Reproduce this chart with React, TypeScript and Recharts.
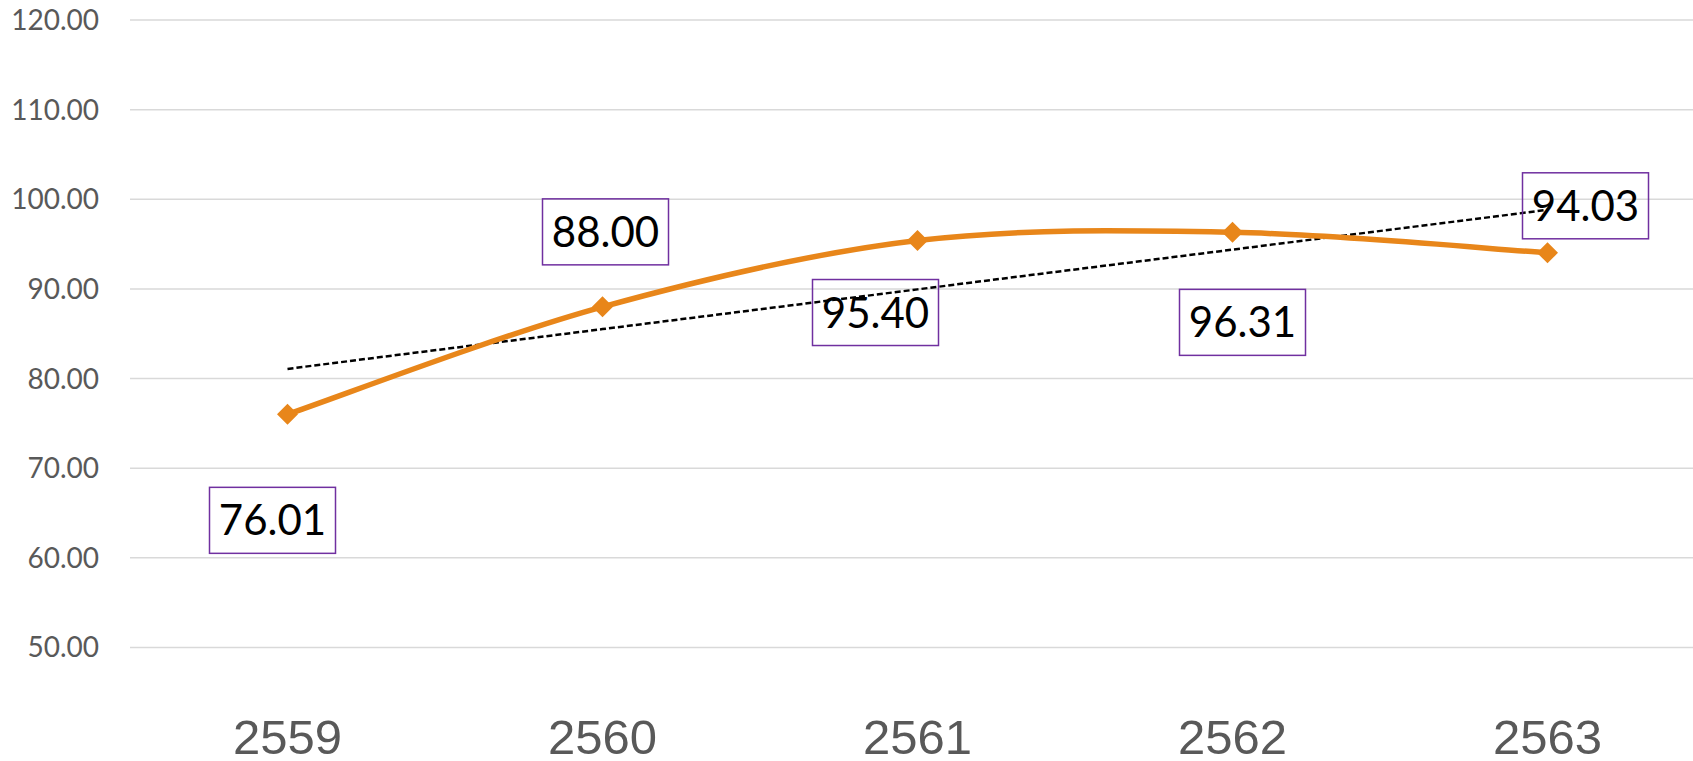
import { LineChart, Line, XAxis, YAxis, CartesianGrid } from "recharts";

const years = ["2559", "2560", "2561", "2562", "2563"];
const scores = [76.01, 88.0, 95.4, 96.31, 94.03];
// linear trend line
const trend = [81.08, 85.52, 89.95, 94.39, 98.82];
const yTicks = [50, 60, 70, 80, 90, 100, 110, 120];

const data = years.map((year, i) => ({ year, score: scores[i], trend: trend[i] }));

// where each value box sits relative to its point
const labelOffsets = [
    { dx: -15, dy: 106 },
    { dx: 3, dy: -75 },
    { dx: -42, dy: 72 },
    { dx: 10, dy: 90 },
    { dx: 38, dy: -47 },
];

// Excel style smoothed line (catmull-rom through the points)
const smoothCurve = (context: any) => {
    let pts: [number, number][] = [];
    return {
        areaStart() {},
        areaEnd() {},
        lineStart() {
            pts = [];
        },
        point(x: number, y: number) {
            pts.push([x, y]);
        },
        lineEnd() {
            if (!pts.length) return;
            context.moveTo(pts[0][0], pts[0][1]);
            for (let i = 0; i < pts.length - 1; i++) {
                const p0 = pts[i - 1] || pts[i];
                const p1 = pts[i];
                const p2 = pts[i + 1];
                const p3 = pts[i + 2] || p2;
                context.bezierCurveTo(
                    p1[0] + (p2[0] - p0[0]) / 6,
                    p1[1] + (p2[1] - p0[1]) / 6,
                    p2[0] - (p3[0] - p1[0]) / 6,
                    p2[1] - (p3[1] - p1[1]) / 6,
                    p2[0],
                    p2[1]
                );
            }
        },
    };
};

const Diamond = ({ cx, cy }: any) => {
    if (cx == null || cy == null) return null;
    const r = 10.5;
    return (
        <polygon
            points={`${cx},${cy - r} ${cx + r},${cy} ${cx},${cy + r} ${cx - r},${cy}`}
            fill="#E8861A"
        />
    );
};

const ValueBox = ({ x, y, value, index }: any) => {
    const off = labelOffsets[index] || { dx: 0, dy: 0 };
    const cx = x + off.dx;
    const cy = y + off.dy;
    const w = 126;
    const h = 66;
    return (
        <g>
            <rect x={cx - w / 2} y={cy - h / 2} width={w} height={h} fill="none" stroke="#7030A0" strokeWidth={1.5} />
            <text
                x={cx}
                y={cy + 15}
                textAnchor="middle"
                fontFamily="Lato"
                fontSize={42}
                fill="#000000"
            >
                {Number(value).toFixed(2)}
            </text>
        </g>
    );
};

const App = () => {
    return (
        <div
            style={{
                position: "absolute",
                left: 0,
                top: 0,
                width: 1693,
                height: 761,
                overflow: "hidden",
                background: "#ffffff",
            }}
        >
            <LineChart width={1705} height={761} data={data} margin={{ top: 20, right: 0, bottom: 0, left: 0 }}>
                <CartesianGrid vertical={false} stroke="#D9D9D9" strokeWidth={1.5} />
                <XAxis
                    dataKey="year"
                    axisLine={false}
                    tickLine={false}
                    tickSize={0}
                    tickMargin={72}
                    height={113.5}
                    padding={{ left: 157.5, right: 157.5 }}
                    interval={0}
                    tick={{ fill: "#595959", fontSize: 49, fontFamily: "Liberation Sans" }}
                />
                <YAxis
                    domain={[50, 120]}
                    ticks={yTicks}
                    width={130}
                    axisLine={false}
                    tickLine={false}
                    tickSize={0}
                    tickMargin={31}
                    tickFormatter={(v: number) => v.toFixed(2)}
                    tick={{ fill: "#595959", fontSize: 28, fontFamily: "Lato" }}
                />
                <Line
                    dataKey="trend"
                    type="linear"
                    stroke="#000000"
                    strokeWidth={2.5}
                    strokeDasharray="6 3"
                    dot={false}
                    activeDot={false}
                    isAnimationActive={false}
                />
                <Line
                    dataKey="score"
                    type={smoothCurve as any}
                    stroke="#E8861A"
                    strokeWidth={5.5}
                    dot={<Diamond />}
                    activeDot={false}
                    label={<ValueBox />}
                    isAnimationActive={false}
                />
            </LineChart>
        </div>
    );
};

export default App;
